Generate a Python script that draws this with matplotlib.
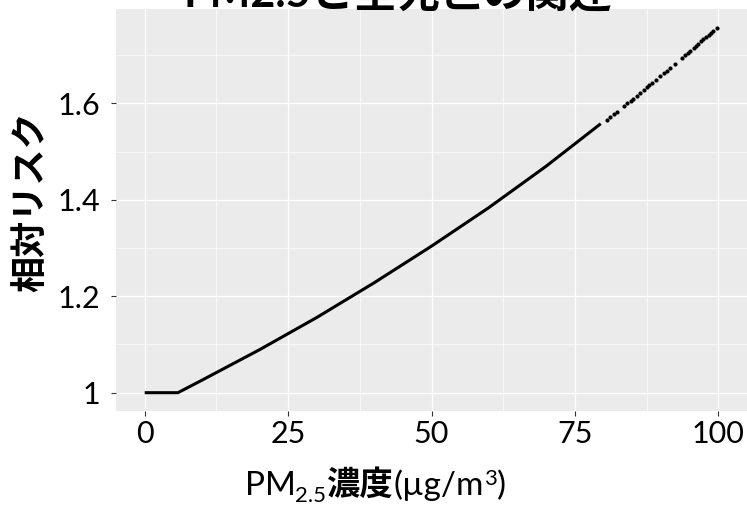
import matplotlib
matplotlib.use('Agg')
import matplotlib.pyplot as plt

# ---- data ----
title_text = 'PM2.5と全死亡の関連'
ylabel_text = '相対リスク'
# continuous part of the curve
curve_pm = [0, 5.8, 10, 20, 30, 40, 50, 60, 70, 79.5]
curve_rr = [1.0, 1.0, 1.026, 1.089, 1.156, 1.228, 1.304, 1.384, 1.470, 1.558]
# sparse observations at the high end
point_pm = [80.6, 81.2, 81.8, 82.3, 83.5, 84.1, 84.7, 85.2, 85.8, 86.4, 87.0, 87.6,
            88.0, 88.5, 89.1, 89.9, 90.6, 91.0, 91.6, 92.5, 93.6, 94.2, 94.7, 95.1,
            95.7, 96.1, 96.5, 97.0, 97.4, 97.8, 98.3, 98.7, 99.1, 99.7]
point_rr = [1.566, 1.572, 1.578, 1.582, 1.594, 1.600, 1.605, 1.610, 1.616, 1.622, 1.628, 1.634,
            1.638, 1.643, 1.648, 1.656, 1.663, 1.667, 1.673, 1.682, 1.694, 1.700, 1.705, 1.709,
            1.715, 1.719, 1.724, 1.729, 1.733, 1.737, 1.742, 1.746, 1.750, 1.757]
x_ticks = [0, 25, 50, 75, 100]
x_tick_labels = ['0', '25', '50', '75', '100']
x_minor = [12.5, 37.5, 62.5, 87.5]
y_ticks = [1.0, 1.2, 1.4, 1.6]
y_tick_labels = ['1', '1.2', '1.4', '1.6']
y_minor = [1.1, 1.3, 1.5, 1.7]

FAM = ['Lato', 'Noto Sans CJK JP', 'DejaVu Sans']
plt.rcParams['font.family'] = FAM

W, H = 747, 512
fig = plt.figure(figsize=(W / 100, H / 100), dpi=100)
L, R, T, B = 116, 747, 9, 411
ax = fig.add_axes([L / W, 1 - B / H, (R - L) / W, (B - T) / H])
ax.set_facecolor('#EBEBEB')
for s in ax.spines.values():
    s.set_visible(False)

ax.plot(curve_pm, curve_rr, color='black', lw=2.2, solid_capstyle='butt', zorder=3)
ax.plot(point_pm, point_rr, 'o', color='black', ms=3.0, mec='none', zorder=3)

ax.set_xlim(-5, 105)
ax.set_ylim(0.962, 1.796)
ax.set_xticks(x_ticks)
ax.set_xticklabels(x_tick_labels)
ax.set_yticks(y_ticks)
ax.set_yticklabels(y_tick_labels)
ax.set_xticks(x_minor, minor=True)
ax.set_yticks(y_minor, minor=True)
ax.grid(which='major', color='white', lw=0.9)
ax.grid(which='minor', color='white', lw=0.45)
ax.set_axisbelow(True)
ax.tick_params(which='minor', length=0)
ax.tick_params(which='major', length=3.5, width=0.8, color='#333333', labelcolor='black',
               labelsize=22)
ax.tick_params(axis='x', pad=3)
ax.tick_params(axis='y', pad=8)

# title
fig.text(398 / W, 1 - 8 / H, title_text, ha='center', va='baseline', fontsize=31,
         weight='bold', family=FAM)

# y label
fig.text(30 / W, 1 - 202 / H, ylabel_text, ha='center', va='center', rotation=90,
         fontsize=26, weight='bold', family=FAM)

# x label built from pieces (subscript / superscript)
fig.canvas.draw()
renderer = fig.canvas.get_renderer()
base_y = 495  # baseline in px from top
parts = [('PM', 24, 0, 'normal'), ('2.5', 16, -7, 'normal'), ('濃度', 24, 0, 'bold'),
         ('(µg/m', 24, 0, 'normal'), ('3', 16, 10, 'normal'), (')', 24, 0, 'normal')]
texts = []
for s, size, dy, wt in parts:
    t = fig.text(0, 0, s, fontsize=size, weight=wt, family=FAM, ha='left', va='baseline')
    texts.append((t, dy))
widths = [t.get_window_extent(renderer).width for t, _ in texts]
total = sum(widths)
x0 = 375 - total / 2
for (t, dy), w in zip(texts, widths):
    t.set_position((x0 / W, 1 - (base_y - dy) / H))
    x0 += w

fig.savefig('out.png', dpi=100)
